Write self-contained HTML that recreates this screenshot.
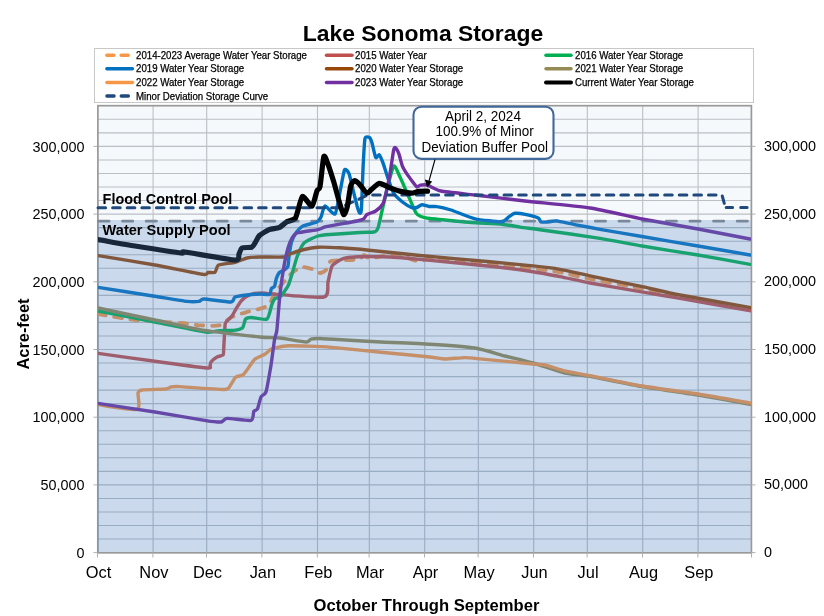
<!DOCTYPE html>
<html><head><meta charset="utf-8"><style>
html,body{margin:0;padding:0;background:#fff;width:824px;height:616px;overflow:hidden}
svg{display:block;will-change:transform}
text{font-family:"Liberation Sans", sans-serif}
</style></head><body>
<svg width="824" height="616" viewBox="0 0 824 616">
<text x="423" y="40.8" text-anchor="middle" font-size="22.9" font-weight="bold" font-family="Liberation Sans, sans-serif">Lake Sonoma Storage</text>
<rect x="94.5" y="48.5" width="659" height="54" fill="#fff" stroke="#c8c8c8" stroke-width="1"/>
<line x1="106.9" y1="55.3" x2="132.4" y2="55.3" stroke="#f79646" stroke-width="3.6" stroke-linecap="round" stroke-dasharray="6.9 7.4"/>
<text x="136" y="58.9" font-size="10.3" textLength="171.0" lengthAdjust="spacingAndGlyphs" font-family="Liberation Sans, sans-serif" fill="#000" stroke="#000" stroke-width="0.25">2014-2023 Average Water Year Storage</text>
<line x1="326.5" y1="55.3" x2="352" y2="55.3" stroke="#c0504d" stroke-width="3.5" stroke-linecap="round"/>
<text x="355" y="58.9" font-size="10.3" textLength="71.7" lengthAdjust="spacingAndGlyphs" font-family="Liberation Sans, sans-serif" fill="#000" stroke="#000" stroke-width="0.25">2015 Water Year</text>
<line x1="546" y1="55.3" x2="571" y2="55.3" stroke="#00b050" stroke-width="3.5" stroke-linecap="round"/>
<text x="575" y="58.9" font-size="10.3" textLength="108.2" lengthAdjust="spacingAndGlyphs" font-family="Liberation Sans, sans-serif" fill="#000" stroke="#000" stroke-width="0.25">2016 Water Year Storage</text>
<line x1="106.9" y1="68.8" x2="132.4" y2="68.8" stroke="#0070c0" stroke-width="3.5" stroke-linecap="round"/>
<text x="136" y="72.4" font-size="10.3" textLength="108.2" lengthAdjust="spacingAndGlyphs" font-family="Liberation Sans, sans-serif" fill="#000" stroke="#000" stroke-width="0.25">2019 Water Year Storage</text>
<line x1="326.5" y1="68.8" x2="352" y2="68.8" stroke="#974706" stroke-width="3.5" stroke-linecap="round"/>
<text x="355" y="72.4" font-size="10.3" textLength="108.2" lengthAdjust="spacingAndGlyphs" font-family="Liberation Sans, sans-serif" fill="#000" stroke="#000" stroke-width="0.25">2020 Water Year Storage</text>
<line x1="546" y1="68.8" x2="571" y2="68.8" stroke="#948a54" stroke-width="3.5" stroke-linecap="round"/>
<text x="575" y="72.4" font-size="10.3" textLength="108.2" lengthAdjust="spacingAndGlyphs" font-family="Liberation Sans, sans-serif" fill="#000" stroke="#000" stroke-width="0.25">2021 Water Year Storage</text>
<line x1="106.9" y1="82.4" x2="132.4" y2="82.4" stroke="#f79646" stroke-width="3.5" stroke-linecap="round"/>
<text x="136" y="86.0" font-size="10.3" textLength="108.2" lengthAdjust="spacingAndGlyphs" font-family="Liberation Sans, sans-serif" fill="#000" stroke="#000" stroke-width="0.25">2022 Water Year Storage</text>
<line x1="326.5" y1="82.4" x2="352" y2="82.4" stroke="#7030a0" stroke-width="3.5" stroke-linecap="round"/>
<text x="355" y="86.0" font-size="10.3" textLength="108.2" lengthAdjust="spacingAndGlyphs" font-family="Liberation Sans, sans-serif" fill="#000" stroke="#000" stroke-width="0.25">2023 Water Year Storage</text>
<line x1="546" y1="82.4" x2="571" y2="82.4" stroke="#000000" stroke-width="4" stroke-linecap="round"/>
<text x="575" y="86.0" font-size="10.3" textLength="119.0" lengthAdjust="spacingAndGlyphs" font-family="Liberation Sans, sans-serif" fill="#000" stroke="#000" stroke-width="0.25">Current Water Year Storage</text>
<line x1="106.9" y1="96" x2="132.4" y2="96" stroke="#1f497d" stroke-width="3.3" stroke-linecap="round" stroke-dasharray="7.2 7.1"/>
<text x="136" y="99.6" font-size="10.3" textLength="132.2" lengthAdjust="spacingAndGlyphs" font-family="Liberation Sans, sans-serif" fill="#000" stroke="#000" stroke-width="0.25">Minor Deviation Storage Curve</text>
<defs><clipPath id="pc"><rect x="98.0" y="105.8" width="653.0" height="446.8"/></clipPath></defs>
<rect x="97.5" y="105.8" width="654.0" height="446.8" fill="#f5f9fc"/>
<rect x="97.5" y="220.0" width="654.0" height="332.6" fill="#ffffff"/>
<path d="M97.5,539.06H751.5M97.5,525.52H751.5M97.5,511.98H751.5M97.5,498.44H751.5M97.5,484.90H751.5M97.5,471.36H751.5M97.5,457.82H751.5M97.5,444.28H751.5M97.5,430.74H751.5M97.5,417.20H751.5M97.5,403.66H751.5M97.5,390.12H751.5M97.5,376.58H751.5M97.5,363.04H751.5M97.5,349.50H751.5M97.5,335.96H751.5M97.5,322.42H751.5M97.5,308.88H751.5M97.5,295.34H751.5M97.5,281.80H751.5M97.5,268.26H751.5M97.5,254.72H751.5M97.5,241.18H751.5M97.5,227.64H751.5M97.5,214.10H751.5M97.5,200.56H751.5M97.5,187.02H751.5M97.5,173.48H751.5M97.5,159.94H751.5M97.5,146.40H751.5M97.5,132.86H751.5M97.5,119.32H751.5M153.09,105.8V552.6M206.70,105.8V552.6M262.09,105.8V552.6M317.49,105.8V552.6M369.31,105.8V552.6M424.70,105.8V552.6M478.31,105.8V552.6M533.70,105.8V552.6M587.31,105.8V552.6M642.70,105.8V552.6M698.09,105.8V552.6" stroke="#bcc0c5" stroke-width="1.1" fill="none"/>
<rect x="97.9" y="105.7" width="653.5" height="447.1" fill="none" stroke="#999999" stroke-width="1.7"/>
<line x1="98.9" y1="221.2" x2="750" y2="221.2" stroke="#8c8c8c" stroke-width="2.8" stroke-linecap="round" stroke-dasharray="10.2 13.44"/>
<path clip-path="url(#pc)" d="M98.0,314.0C101.7,314.6 126.7,319.1 135.0,320.0C143.3,320.9 174.4,322.5 181.0,323.0C187.6,323.5 197.2,325.2 201.0,325.4C204.8,325.6 215.9,326.2 219.0,325.4C222.1,324.6 229.2,318.3 232.0,317.0C234.8,315.7 243.5,313.0 246.6,312.1C249.7,311.2 260.9,308.7 263.2,307.8C265.5,306.9 268.9,304.4 270.0,303.0C271.1,301.6 272.8,295.9 274.0,294.0C275.2,292.1 280.2,286.1 282.0,284.0C283.8,281.9 290.0,274.7 292.0,273.0C294.0,271.3 300.0,267.4 302.0,267.0C304.0,266.6 310.2,268.4 312.0,269.0C313.8,269.6 318.6,272.9 320.0,273.0C321.4,273.1 324.9,271.2 326.0,270.0C327.1,268.8 328.6,262.0 331.0,261.0C333.4,260.0 347.1,260.2 350.0,260.0C352.9,259.8 358.6,259.5 360.0,259.0C361.4,258.5 363.0,255.1 364.0,255.0C365.0,254.9 367.6,258.4 370.0,258.4C372.4,258.4 384.7,255.2 388.0,255.0C391.3,254.8 400.1,255.4 403.0,256.0C405.9,256.6 414.0,260.8 417.0,261.0C420.0,261.2 428.9,258.5 433.0,258.4C437.1,258.3 453.6,260.0 458.0,260.4C462.4,260.8 469.5,261.5 477.0,262.3C484.5,263.1 524.7,267.5 533.0,268.5C541.3,269.5 554.3,271.1 560.0,272.2C565.7,273.2 582.0,277.4 590.0,279.0C598.0,280.6 629.2,286.0 640.0,288.2C650.8,290.4 687.0,298.9 698.0,301.0C709.0,303.1 744.8,308.2 750.0,309.0" fill="none" stroke="#f79646" stroke-width="3.8" stroke-linejoin="round" stroke-linecap="round" stroke-dasharray="7.8 8.6"/>
<path clip-path="url(#pc)" d="M98.0,353.4C103.5,354.2 142.1,359.5 153.0,361.0C163.9,362.5 201.3,367.5 207.0,368.0C212.7,368.5 209.6,366.6 210.0,366.0C210.4,365.4 210.3,362.9 211.0,362.0C211.7,361.1 215.8,357.7 217.0,357.0C218.2,356.3 222.3,355.6 223.0,355.0C223.7,354.4 223.5,352.5 223.6,351.0C223.7,349.5 224.0,342.7 224.2,340.0C224.4,337.3 224.8,325.8 225.2,323.8C225.6,321.8 227.4,320.7 228.1,319.9C228.8,319.1 231.2,317.1 232.0,316.0C232.8,314.9 235.0,310.7 235.9,309.2C236.8,307.7 239.8,302.6 240.8,301.4C241.8,300.2 244.3,297.8 245.6,297.0C246.9,296.2 251.8,294.0 253.4,293.6C255.0,293.2 260.1,293.0 262.0,293.0C263.9,293.0 265.8,293.6 272.0,294.0C278.2,294.4 318.4,298.2 324.0,297.0C329.6,295.8 327.2,285.1 328.0,282.0C328.8,278.9 330.8,268.2 332.0,266.0C333.2,263.8 338.4,260.8 340.0,259.9C341.6,259.0 345.1,257.8 348.0,257.5C350.9,257.2 364.0,256.5 369.0,256.5C374.0,256.5 392.9,257.2 398.0,257.5C403.1,257.8 410.8,258.5 420.0,259.4C429.2,260.3 478.7,265.0 490.0,266.2C501.3,267.4 526.0,270.7 533.0,271.7C540.0,272.7 554.3,275.5 560.0,276.6C565.7,277.7 582.0,281.5 590.0,283.0C598.0,284.5 631.0,290.1 640.0,291.6C649.0,293.1 668.9,296.5 680.0,298.4C691.1,300.3 743.9,309.6 751.0,310.9" fill="none" stroke="#c0504d" stroke-width="3.4" stroke-linejoin="round" stroke-linecap="round"/>
<path clip-path="url(#pc)" d="M98.0,311.0C103.7,312.1 144.2,319.9 155.0,322.0C165.8,324.1 199.6,331.1 206.0,332.0C212.4,332.9 216.3,330.8 219.3,330.6C222.3,330.4 233.6,330.4 235.9,330.1C238.2,329.8 241.7,328.8 242.7,327.7C243.7,326.6 244.7,320.0 245.6,319.0C246.5,318.0 249.4,317.5 251.5,317.5C253.6,317.5 265.0,320.3 267.0,319.0C269.0,317.7 271.1,306.4 271.9,304.3C272.7,302.2 274.2,299.2 275.0,298.5C275.8,297.8 278.7,298.2 280.0,297.0C281.3,295.8 286.8,288.3 288.0,286.0C289.2,283.7 291.1,276.9 292.0,274.0C292.9,271.1 295.8,260.1 297.0,257.0C298.2,253.9 301.9,245.1 304.0,243.0C306.1,240.9 315.4,236.8 318.0,236.0C320.6,235.2 325.8,234.8 330.0,234.5C334.2,234.2 355.6,232.8 360.0,232.5C364.4,232.2 372.2,232.4 374.0,232.0C375.8,231.6 377.2,230.1 378.0,228.0C378.8,225.9 381.0,215.3 382.0,211.0C383.0,206.7 386.8,189.5 388.0,185.0C389.2,180.5 392.8,166.8 394.0,166.0C395.2,165.2 398.6,174.1 400.0,177.0C401.4,179.9 406.4,191.4 408.0,195.0C409.6,198.6 414.7,210.8 416.0,213.0C417.3,215.2 419.6,215.9 421.0,216.5C422.4,217.1 425.6,217.9 430.0,218.5C434.4,219.1 460.0,221.5 465.0,222.0C470.0,222.5 476.3,222.9 480.0,223.1C483.7,223.3 497.8,223.8 501.8,224.2C505.8,224.6 516.2,226.5 520.0,227.1C523.8,227.7 532.0,228.6 540.0,229.7C548.0,230.8 589.8,236.8 600.0,238.4C610.2,240.0 632.2,244.3 642.0,246.0C651.8,247.7 687.2,253.2 698.0,255.0C708.8,256.8 744.8,263.5 750.0,264.4" fill="none" stroke="#00b050" stroke-width="3.4" stroke-linejoin="round" stroke-linecap="round"/>
<path clip-path="url(#pc)" d="M98.0,287.4C103.5,288.3 144.1,294.6 153.0,296.0C161.9,297.4 182.4,300.9 187.0,301.4C191.6,301.9 197.3,301.6 199.0,301.4C200.7,301.2 200.8,298.9 204.0,299.0C207.2,299.1 227.9,302.2 231.0,302.0C234.1,301.8 233.4,297.7 235.0,297.0C236.6,296.3 244.5,295.3 247.0,295.0C249.5,294.7 257.7,294.1 260.0,294.0C262.3,293.9 268.5,295.0 269.6,294.4C270.7,293.8 270.9,289.1 271.4,288.3C271.9,287.5 274.0,287.5 274.5,286.5C275.0,285.5 275.8,280.0 276.3,278.6C276.8,277.2 278.6,273.4 279.4,272.5C280.2,271.6 283.3,270.6 284.2,270.0C285.1,269.4 287.4,267.8 287.9,266.4C288.4,264.9 288.7,257.9 289.1,255.5C289.5,253.1 290.8,244.3 291.5,242.0C292.2,239.7 295.3,233.9 296.4,232.3C297.5,230.7 300.4,227.2 302.5,226.2C304.6,225.2 315.1,222.9 317.0,222.0C318.9,221.1 320.2,218.6 321.0,217.0C321.8,215.4 323.6,206.3 325.0,206.0C326.4,205.7 333.5,215.4 335.0,214.0C336.5,212.6 339.1,196.4 340.0,192.0C340.9,187.6 343.6,171.8 344.5,170.0C345.4,168.2 348.1,171.5 349.0,173.6C349.9,175.7 352.6,188.2 353.4,191.4C354.2,194.6 356.4,203.5 357.0,205.7C357.6,207.8 359.2,212.5 359.6,212.9C360.0,213.3 361.0,214.1 361.4,209.3C361.8,204.5 362.8,171.7 363.2,164.6C363.6,157.5 364.4,141.2 365.0,138.5C365.6,135.8 368.8,137.1 369.5,137.5C370.2,137.9 371.4,141.0 372.0,143.0C372.6,145.0 375.0,156.3 375.7,157.5C376.4,158.7 378.6,154.3 379.3,154.8C380.0,155.3 382.1,160.5 383.0,162.9C383.9,165.3 387.1,175.9 388.2,178.9C389.3,181.9 392.2,190.9 393.6,193.2C395.0,195.5 400.7,200.6 402.5,202.0C404.3,203.4 410.0,206.9 411.4,207.5C412.8,208.1 415.7,207.8 416.8,207.5C417.9,207.2 420.8,204.9 422.0,204.8C423.2,204.7 427.5,206.3 429.0,206.5C430.5,206.7 434.8,206.2 437.0,206.6C439.2,206.9 447.2,208.8 451.0,210.0C454.8,211.2 469.9,217.6 475.0,218.8C480.1,220.0 498.4,221.9 501.8,221.7C505.2,221.5 507.8,217.4 509.1,216.6C510.4,215.8 513.4,213.5 515.0,213.3C516.6,213.1 522.9,213.9 525.2,214.4C527.5,214.9 536.7,217.2 538.3,218.0C539.9,218.8 540.0,221.6 541.0,222.0C542.0,222.4 547.2,222.0 548.7,221.9C550.2,221.8 553.8,220.6 556.5,220.9C559.2,221.2 571.5,224.0 575.9,224.8C580.2,225.6 593.4,228.1 600.0,229.3C606.6,230.5 632.2,234.8 642.0,236.5C651.8,238.2 687.2,244.2 698.0,246.0C708.8,247.8 744.8,254.1 750.0,255.0" fill="none" stroke="#0070c0" stroke-width="3.4" stroke-linejoin="round" stroke-linecap="round"/>
<path clip-path="url(#pc)" d="M98.0,255.6C103.7,256.5 144.5,263.1 155.0,265.0C165.5,266.9 197.7,273.7 203.0,274.4C208.3,275.1 206.8,272.6 208.0,272.4C209.2,272.2 213.9,273.1 215.0,272.4C216.1,271.7 216.6,266.0 218.6,265.0C220.6,264.0 232.2,263.1 235.0,262.4C237.8,261.7 244.5,258.5 247.0,258.0C249.5,257.5 256.3,257.1 260.0,257.0C263.7,256.9 281.0,257.3 284.0,257.0C287.0,256.7 288.0,254.8 290.0,254.0C292.0,253.2 301.2,250.2 304.0,249.5C306.8,248.8 314.4,247.4 318.0,247.2C321.6,247.0 334.9,247.5 340.0,247.8C345.1,248.1 361.0,249.4 369.0,250.2C377.0,251.0 407.9,254.3 420.0,255.5C432.1,256.7 478.7,260.8 490.0,261.8C501.3,262.8 526.0,265.1 533.0,265.9C540.0,266.6 554.3,268.3 560.0,269.3C565.7,270.3 582.0,274.1 590.0,275.8C598.0,277.5 631.0,284.3 640.0,286.2C649.0,288.1 668.9,292.9 680.0,295.0C691.1,297.1 743.9,306.4 751.0,307.7" fill="none" stroke="#974706" stroke-width="3.4" stroke-linejoin="round" stroke-linecap="round"/>
<path clip-path="url(#pc)" d="M98.0,308.0C103.7,309.2 144.3,317.8 155.0,320.0C165.7,322.2 194.5,328.7 205.0,330.4C215.5,332.1 252.5,336.2 260.0,337.0C267.5,337.8 275.4,337.5 280.0,338.0C284.6,338.5 302.9,341.9 306.0,342.0C309.1,342.1 309.6,339.6 311.0,339.2C312.4,338.8 316.9,338.4 320.0,338.5C323.1,338.6 335.6,339.4 341.7,339.8C347.8,340.2 372.2,341.6 381.0,342.0C389.8,342.4 420.6,343.6 430.0,344.2C439.4,344.8 467.5,346.8 475.0,348.0C482.5,349.2 499.2,354.5 505.0,356.0C510.8,357.5 527.0,361.3 533.0,363.0C539.0,364.7 559.3,371.7 565.0,373.0C570.7,374.3 582.3,375.0 590.0,376.4C597.7,377.8 631.2,384.6 642.0,386.5C652.8,388.4 687.2,393.2 698.0,395.0C708.8,396.8 744.8,403.5 750.0,404.4" fill="none" stroke="#948a54" stroke-width="3.4" stroke-linejoin="round" stroke-linecap="round"/>
<path clip-path="url(#pc)" d="M98.0,404.6C101.9,405.1 133.0,410.6 137.0,409.4C141.0,408.2 137.5,394.9 138.0,393.0C138.5,391.1 139.2,390.4 142.0,390.0C144.8,389.6 163.1,389.3 166.0,389.0C168.9,388.7 169.7,387.2 171.0,387.0C172.3,386.8 173.6,386.4 179.0,386.6C184.4,386.9 219.5,389.7 224.7,389.5C229.9,389.3 229.7,385.8 230.8,384.6C231.9,383.4 234.4,378.3 235.6,377.3C236.8,376.3 241.7,375.8 242.9,374.9C244.1,374.0 246.6,370.4 247.8,368.8C249.0,367.2 253.3,360.6 255.0,359.1C256.7,357.7 263.2,355.3 264.8,354.3C266.4,353.3 269.1,350.2 270.8,349.4C272.5,348.6 279.8,346.9 281.7,346.5C283.6,346.1 286.6,345.8 290.0,345.8C293.4,345.8 310.8,346.2 315.5,346.4C320.2,346.6 330.8,347.3 337.3,347.9C343.9,348.5 371.7,351.4 381.0,352.3C390.3,353.2 423.6,356.3 430.0,357.0C436.4,357.7 441.5,358.9 445.0,359.0C448.5,359.1 461.0,357.6 465.0,357.6C469.0,357.6 478.2,358.8 485.0,359.4C491.8,360.0 527.0,363.4 533.0,364.0C539.0,364.6 541.8,364.3 545.0,365.0C548.2,365.7 560.5,369.9 565.0,371.0C569.5,372.1 582.3,374.1 590.0,375.6C597.7,377.1 631.2,384.2 642.0,386.0C652.8,387.8 687.2,392.3 698.0,394.0C708.8,395.7 744.8,402.1 750.0,403.0" fill="none" stroke="#f79646" stroke-width="3.4" stroke-linejoin="round" stroke-linecap="round"/>
<path clip-path="url(#pc)" d="M98.0,403.4C103.7,404.3 144.2,410.3 155.0,412.0C165.8,413.7 199.4,419.6 206.0,420.6C212.6,421.6 218.9,422.2 221.0,422.0C223.1,421.8 224.0,418.6 227.0,418.4C230.0,418.2 248.3,421.1 251.0,420.4C253.7,419.7 253.2,412.4 253.8,411.3C254.5,410.2 256.8,410.4 257.5,408.9C258.2,407.4 260.2,398.4 261.1,396.7C262.0,395.0 265.0,394.9 266.0,391.9C267.0,388.9 269.9,371.6 270.8,366.4C271.7,361.2 273.9,343.3 274.5,339.7C275.1,336.1 276.3,334.6 276.9,330.0C277.4,325.4 279.3,300.4 280.0,294.0C280.7,287.6 283.2,270.6 284.0,266.0C284.8,261.4 287.2,250.8 288.0,248.0C288.8,245.2 291.1,239.5 292.0,238.0C292.9,236.5 294.4,233.8 297.0,233.0C299.6,232.2 315.1,230.2 318.0,229.6C320.9,229.0 321.7,227.7 326.0,226.7C330.3,225.7 357.3,221.2 361.4,220.0C365.5,218.8 365.4,215.5 366.8,214.6C368.2,213.7 374.1,212.1 375.7,211.0C377.3,209.9 381.8,205.9 382.9,203.9C384.0,201.9 385.7,194.4 386.4,191.4C387.1,188.4 389.3,177.7 390.0,173.6C390.7,169.5 393.1,153.0 393.6,150.4C394.1,147.8 394.9,147.3 395.4,147.7C395.9,148.0 398.2,152.0 398.9,153.9C399.6,155.8 401.6,164.2 402.5,166.4C403.4,168.6 406.8,173.8 407.9,175.4C409.0,177.0 412.3,181.3 413.2,182.5C414.1,183.7 416.1,186.7 416.8,187.0C417.5,187.3 419.3,185.4 420.4,185.2C421.5,185.0 425.4,184.6 427.5,185.2C429.6,185.8 436.2,190.0 441.0,191.0C445.8,192.0 466.6,194.0 475.0,195.0C483.4,196.0 513.5,199.7 525.0,201.0C536.5,202.3 578.3,206.2 590.0,208.0C601.7,209.8 631.2,216.9 642.0,219.0C652.8,221.1 687.2,227.0 698.0,229.0C708.8,231.0 744.8,238.0 750.0,239.0" fill="none" stroke="#7030a0" stroke-width="3.4" stroke-linejoin="round" stroke-linecap="round"/>
<polyline points="98.0,207.7 340.0,207.7 368.0,195.0 722.0,195.0 725.0,206.0" fill="none" stroke="#1f497d" stroke-width="3" stroke-linecap="round" stroke-dasharray="7.6 7"/>
<line x1="726.2" y1="207.4" x2="747.2" y2="207.4" stroke="#1f497d" stroke-width="3" stroke-linecap="round" stroke-dasharray="6.4 8.1"/>
<path clip-path="url(#pc)" d="M98.0,239.6C101.7,240.2 126.7,244.7 135.0,246.0C143.3,247.3 176.0,252.4 181.0,253.0C186.0,253.6 179.6,251.3 185.0,252.0C190.4,252.7 229.6,259.8 235.0,260.0C240.4,260.2 238.3,255.2 239.0,254.0C239.7,252.8 240.7,248.7 242.0,248.0C243.3,247.3 250.4,247.7 251.7,247.2C253.0,246.7 254.2,244.2 255.0,243.0C255.8,241.8 258.1,236.8 259.5,235.5C260.9,234.2 267.2,230.4 269.2,229.6C271.1,228.8 277.2,228.5 279.0,227.7C280.8,226.9 285.2,222.8 286.8,221.8C288.4,220.8 293.9,220.5 295.5,218.0C297.1,215.5 300.7,197.7 302.3,196.5C303.9,195.3 310.5,206.8 312.0,206.2C313.5,205.6 316.2,192.6 317.0,190.7C317.8,188.8 319.3,190.2 320.0,186.8C320.7,183.4 323.0,158.9 323.8,156.6C324.6,154.3 326.7,161.0 327.7,163.4C328.7,165.8 332.3,177.1 333.5,181.0C334.7,184.9 338.4,198.9 339.4,202.3C340.4,205.7 342.8,214.1 343.6,214.6C344.4,215.1 346.4,210.4 347.1,207.5C347.8,204.6 350.0,188.7 350.7,186.0C351.4,183.3 353.4,180.9 354.3,180.7C355.2,180.5 358.4,183.1 359.6,184.3C360.9,185.6 365.6,192.7 366.8,193.2C368.0,193.7 370.1,190.6 371.3,189.6C372.6,188.6 377.4,183.6 379.3,183.4C381.2,183.2 387.9,187.1 390.0,187.9C392.1,188.7 398.6,190.9 400.7,191.4C402.8,191.9 409.6,193.2 411.4,193.2C413.2,193.2 417.0,191.6 418.6,191.4C420.2,191.2 426.6,191.2 427.5,191.2" fill="none" stroke="#000000" stroke-width="5.2" stroke-linejoin="round" stroke-linecap="round"/>
<rect x="96.9" y="220.0" width="653.7" height="331.9" fill="rgba(79,129,189,0.3)"/>
<text x="102.6" y="203.5" font-size="14" textLength="129.8" lengthAdjust="spacingAndGlyphs" font-weight="bold" font-family="Liberation Sans, sans-serif">Flood Control Pool</text>
<text x="102.6" y="234.5" font-size="14" textLength="128" lengthAdjust="spacingAndGlyphs" font-weight="bold" font-family="Liberation Sans, sans-serif">Water Supply Pool</text>
<path d="M93.5,552.6H97.5M751.5,552.6H755.5M93.5,484.9H97.5M751.5,484.9H755.5M93.5,417.2H97.5M751.5,417.2H755.5M93.5,349.5H97.5M751.5,349.5H755.5M93.5,281.8H97.5M751.5,281.8H755.5M93.5,214.1H97.5M751.5,214.1H755.5M93.5,146.4H97.5M751.5,146.4H755.5M97.5,552.6V557.5M152.9,552.6V557.5M206.5,552.6V557.5M261.9,552.6V557.5M317.3,552.6V557.5M369.1,552.6V557.5M424.5,552.6V557.5M478.1,552.6V557.5M533.5,552.6V557.5M587.1,552.6V557.5M642.5,552.6V557.5M697.9,552.6V557.5M751.5,552.6V557.5" stroke="#b0b0b0" stroke-width="1" fill="none"/>
<text x="84.6" y="557.7" text-anchor="end" font-size="15.3" textLength="8.0" lengthAdjust="spacingAndGlyphs" font-family="Liberation Sans, sans-serif">0</text>
<text x="764" y="557.1" font-size="15.3" textLength="8.0" lengthAdjust="spacingAndGlyphs" font-family="Liberation Sans, sans-serif">0</text>
<text x="84.6" y="490.0" text-anchor="end" font-size="15.3" textLength="44.0" lengthAdjust="spacingAndGlyphs" font-family="Liberation Sans, sans-serif">50,000</text>
<text x="764" y="489.4" font-size="15.3" textLength="44.0" lengthAdjust="spacingAndGlyphs" font-family="Liberation Sans, sans-serif">50,000</text>
<text x="84.6" y="422.3" text-anchor="end" font-size="15.3" textLength="52.1" lengthAdjust="spacingAndGlyphs" font-family="Liberation Sans, sans-serif">100,000</text>
<text x="764" y="421.7" font-size="15.3" textLength="52.1" lengthAdjust="spacingAndGlyphs" font-family="Liberation Sans, sans-serif">100,000</text>
<text x="84.6" y="354.6" text-anchor="end" font-size="15.3" textLength="52.1" lengthAdjust="spacingAndGlyphs" font-family="Liberation Sans, sans-serif">150,000</text>
<text x="764" y="354.0" font-size="15.3" textLength="52.1" lengthAdjust="spacingAndGlyphs" font-family="Liberation Sans, sans-serif">150,000</text>
<text x="84.6" y="286.9" text-anchor="end" font-size="15.3" textLength="52.1" lengthAdjust="spacingAndGlyphs" font-family="Liberation Sans, sans-serif">200,000</text>
<text x="764" y="286.3" font-size="15.3" textLength="52.1" lengthAdjust="spacingAndGlyphs" font-family="Liberation Sans, sans-serif">200,000</text>
<text x="84.6" y="219.2" text-anchor="end" font-size="15.3" textLength="52.1" lengthAdjust="spacingAndGlyphs" font-family="Liberation Sans, sans-serif">250,000</text>
<text x="764" y="218.6" font-size="15.3" textLength="52.1" lengthAdjust="spacingAndGlyphs" font-family="Liberation Sans, sans-serif">250,000</text>
<text x="84.6" y="151.5" text-anchor="end" font-size="15.3" textLength="52.1" lengthAdjust="spacingAndGlyphs" font-family="Liberation Sans, sans-serif">300,000</text>
<text x="764" y="150.9" font-size="15.3" textLength="52.1" lengthAdjust="spacingAndGlyphs" font-family="Liberation Sans, sans-serif">300,000</text>
<text x="98.5" y="578.3" text-anchor="middle" font-size="16.4" font-family="Liberation Sans, sans-serif">Oct</text>
<text x="153.9" y="578.3" text-anchor="middle" font-size="16.4" font-family="Liberation Sans, sans-serif">Nov</text>
<text x="207.5" y="578.3" text-anchor="middle" font-size="16.4" font-family="Liberation Sans, sans-serif">Dec</text>
<text x="262.9" y="578.3" text-anchor="middle" font-size="16.4" font-family="Liberation Sans, sans-serif">Jan</text>
<text x="318.3" y="578.3" text-anchor="middle" font-size="16.4" font-family="Liberation Sans, sans-serif">Feb</text>
<text x="370.1" y="578.3" text-anchor="middle" font-size="16.4" font-family="Liberation Sans, sans-serif">Mar</text>
<text x="425.5" y="578.3" text-anchor="middle" font-size="16.4" font-family="Liberation Sans, sans-serif">Apr</text>
<text x="479.1" y="578.3" text-anchor="middle" font-size="16.4" font-family="Liberation Sans, sans-serif">May</text>
<text x="534.5" y="578.3" text-anchor="middle" font-size="16.4" font-family="Liberation Sans, sans-serif">Jun</text>
<text x="588.1" y="578.3" text-anchor="middle" font-size="16.4" font-family="Liberation Sans, sans-serif">Jul</text>
<text x="643.5" y="578.3" text-anchor="middle" font-size="16.4" font-family="Liberation Sans, sans-serif">Aug</text>
<text x="698.9" y="578.3" text-anchor="middle" font-size="16.4" font-family="Liberation Sans, sans-serif">Sep</text>
<text x="426.5" y="611.1" text-anchor="middle" font-size="16.6" font-weight="bold" font-family="Liberation Sans, sans-serif">October Through September</text>
<text transform="translate(29.4,334) rotate(-90)" text-anchor="middle" font-size="16.4" font-weight="bold" font-family="Liberation Sans, sans-serif">Acre-feet</text>
<rect x="413.5" y="106.7" width="140" height="52.2" rx="8" ry="8" fill="#fff" stroke="#41689a" stroke-width="2.1"/>
<text x="483" y="121.2" text-anchor="middle" font-size="14.6" textLength="75.8" lengthAdjust="spacingAndGlyphs" font-family="Liberation Sans, sans-serif">April 2, 2024</text>
<text x="484.6" y="136.4" text-anchor="middle" font-size="14.6" textLength="98.3" lengthAdjust="spacingAndGlyphs" font-family="Liberation Sans, sans-serif">100.9% of Minor</text>
<text x="484.8" y="152" text-anchor="middle" font-size="14.6" textLength="126.6" lengthAdjust="spacingAndGlyphs" font-family="Liberation Sans, sans-serif">Deviation Buffer Pool</text>
<line x1="435" y1="159.5" x2="429" y2="181" stroke="#000" stroke-width="1.1"/>
<path d="M427.2,187.6 L424.8,179.4 L432.2,181.4 Z" fill="#000"/>
</svg>
</body></html>
